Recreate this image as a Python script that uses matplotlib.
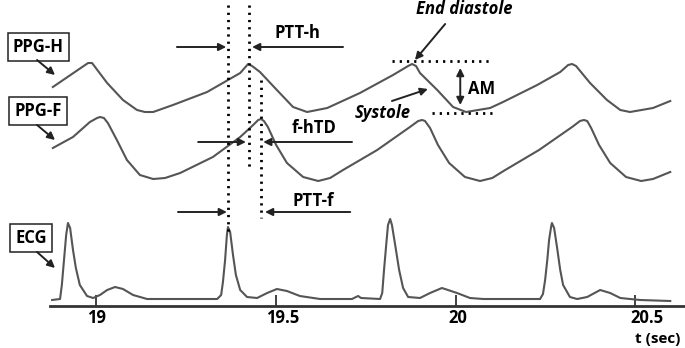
import numpy as np
import matplotlib
matplotlib.use('Agg')
import matplotlib.pyplot as plt
import matplotlib.transforms as mtransforms

# waveform samples (time in s, amplitude in a.u.)
ppg_h_t = [18.880, 18.978, 18.989, 19.031, 19.075, 19.114, 19.136, 19.159, 19.214, 19.309,
           19.401, 19.423, 19.434, 19.456, 19.503, 19.548, 19.587, 19.643, 19.734, 19.826,
           19.868, 19.879, 19.890, 19.901, 19.949, 19.993, 20.029, 20.096, 20.132, 20.227,
           20.291, 20.313, 20.324, 20.335, 20.374, 20.421, 20.458, 20.485, 20.549, 20.597]
ppg_h = [219, 243, 243, 223, 206, 196, 194, 194, 201, 214,
         233, 242, 240, 234, 216, 199, 194, 198, 213, 231,
         240, 242, 240, 233, 216, 199, 194, 198, 204, 221,
         234, 241, 242, 240, 223, 206, 196, 194, 198, 205]

ppg_f_t = [18.880, 18.936, 18.983, 19.003, 19.011, 19.022, 19.033, 19.058, 19.086, 19.122,
           19.159, 19.192, 19.234, 19.325, 19.401, 19.437, 19.451, 19.459, 19.467, 19.478,
           19.501, 19.531, 19.576, 19.618, 19.651, 19.687, 19.782, 19.873, 19.896, 19.907,
           19.915, 19.929, 19.951, 19.982, 20.026, 20.068, 20.102, 20.138, 20.232, 20.324,
           20.346, 20.357, 20.366, 20.377, 20.399, 20.430, 20.474, 20.516, 20.549, 20.597]
ppg_f = [158, 169, 184, 188, 189, 188, 183, 166, 146, 131,
         127, 128, 133, 149, 169, 181, 186, 187, 185, 179,
         161, 143, 129, 125, 128, 136, 156, 179, 185, 186,
         185, 178, 161, 143, 129, 125, 128, 136, 156, 179,
         185, 186, 185, 178, 161, 143, 129, 125, 127, 134]

ecg_t = [18.878, 18.900, 18.905, 18.911, 18.917, 18.922, 18.928, 18.936, 18.944, 18.955,
         18.975, 18.992, 19.011, 19.031, 19.053, 19.075, 19.103, 19.142, 19.337, 19.348,
         19.353, 19.359, 19.364, 19.367, 19.373, 19.381, 19.389, 19.401, 19.420, 19.448,
         19.476, 19.503, 19.531, 19.567, 19.623, 19.712, 19.723, 19.729, 19.737, 19.790,
         19.796, 19.801, 19.807, 19.812, 19.818, 19.823, 19.832, 19.843, 19.854, 19.868,
         19.901, 19.929, 19.962, 20.004, 20.040, 20.077, 20.235, 20.243, 20.249, 20.255,
         20.260, 20.266, 20.268, 20.274, 20.282, 20.291, 20.299, 20.318, 20.338, 20.366,
         20.402, 20.430, 20.458, 20.513, 20.597]
ecg = [6, 7, 21, 46, 71, 83, 78, 56, 38, 21,
       10, 8, 11, 16, 19, 17, 11, 7, 7, 11,
       24, 46, 71, 79, 74, 51, 31, 16, 9, 8,
       13, 17, 15, 10, 7, 7, 9, 10, 8, 7,
       13, 36, 61, 81, 87, 81, 61, 36, 18, 9,
       8, 13, 18, 13, 8, 7, 7, 12, 26, 46,
       66, 80, 83, 78, 59, 36, 21, 9, 7, 9,
       16, 13, 8, 6, 5]

xticks = [19, 19.5, 20, 20.5]
xtick_labels = ['19', '19.5', '20', '20.5']
label_shift = [1, 7, 2, 12]  # px, labels sit a little right of their ticks

# marker times (ECG R peak, PPG-H peak, PPG-F peak)
t_ecg = 19.367
t_h = 19.426
t_f = 19.459

plt.rcParams['font.family'] = ['Open Sans', 'DejaVu Sans']

fig = plt.figure(figsize=(6.85, 3.48), dpi=100)
ax = fig.add_axes([0, 0, 1, 1])
ax.set_xlim(18.733, 20.638)
ax.set_ylim(-42, 306)

wave = dict(color='#555555', lw=1.5)
ax.plot(ppg_h_t, ppg_h, **wave)
ax.plot(ppg_f_t, ppg_f, **wave)
ax.plot(ecg_t, ecg, **wave)

# axis
for s in ['top', 'right', 'left']:
    ax.spines[s].set_visible(False)
ax.spines['bottom'].set_position(('data', 0))
ax.spines['bottom'].set_bounds(18.872, 20.64)
ax.spines['bottom'].set_linewidth(2)
ax.spines['bottom'].set_color('#333333')
ax.set_yticks([])
ax.set_xticks(xticks)
ax.set_xticklabels(xtick_labels, fontsize=12, fontweight='bold')
ax.tick_params(axis='x', direction='in', length=8, width=1.3, color='#333333', pad=2)
for lab, dx in zip(ax.get_xticklabels(), label_shift):
    lab.set_transform(lab.get_transform() + mtransforms.ScaledTranslation(dx / 100, 0, fig.dpi_scale_trans))
ax.text(20.561, -33, 't (sec)', fontsize=11, fontweight='bold', ha='center', va='center')

# dotted markers
dot = dict(color='black', lw=2, linestyle=(0, (0.8, 1.8)))
ax.plot([t_ecg, t_ecg], [301, 70], **dot)
ax.plot([t_h, t_h], [301, 138], **dot)
ax.plot([t_f, t_f], [226, 88], **dot)

arr = dict(arrowstyle='-|>', color='#222222', lw=1.4, mutation_scale=11, shrinkA=0, shrinkB=0)

def two_arrows(y, left, right, label, ty):
    ax.annotate('', xy=(left[1], y), xytext=(left[0], y), arrowprops=arr)
    ax.annotate('', xy=(right[1], y), xytext=(right[0], y), arrowprops=arr)
    ax.text(label[0], ty, label[1], fontsize=12, fontweight='bold', ha='center', va='center')

two_arrows(259, (19.225, 19.362), (19.687, 19.434), (19.559, 'PTT-h'), 273)
two_arrows(164, (19.284, 19.417), (19.712, 19.465), (19.606, 'f-hTD'), 178)
two_arrows(94, (19.228, 19.364), (19.707, 19.470), (19.604, 'PTT-f'), 105)

# amplitude annotation
ax.plot([19.823, 20.104], [245, 245], **dot)
ax.plot([19.935, 20.115], [193, 193], **dot)
ax.annotate('', xy=(20.013, 238), xytext=(20.013, 201),
            arrowprops=dict(arrowstyle='<|-|>', color='#222222', lw=1.4, mutation_scale=11,
                            shrinkA=0, shrinkB=0))
ax.text(20.035, 217, 'AM', fontsize=12, fontweight='bold', ha='left', va='center')
ax.text(20.024, 297, 'End diastole', fontsize=12, fontweight='bold', style='italic',
        ha='center', va='center')
ax.annotate('', xy=(19.887, 246), xytext=(19.971, 282), arrowprops=arr)
ax.text(19.798, 193, 'Systole', fontsize=12, fontweight='bold', style='italic',
        ha='center', va='center')
ax.annotate('', xy=(19.923, 217), xytext=(19.823, 205), arrowprops=arr)

# signal labels
box = dict(boxstyle='square,pad=0.3', fc='white', ec='#222222', lw=1.1)
for name, (tx, ty), (ax0, ay0), (ax1, ay1) in [
        ('PPG-H', (18.839, 259), (18.836, 246), (18.886, 231)),
        ('PPG-F', (18.839, 195), (18.836, 181), (18.886, 166)),
        ('ECG', (18.819, 68), (18.836, 54), (18.886, 38))]:
    ax.text(tx, ty, name, fontsize=12, fontweight='bold', ha='center', va='center', bbox=box)
    ax.annotate('', xy=(ax1, ay1), xytext=(ax0, ay0), arrowprops=arr)

fig.savefig('out.png', dpi=100)
